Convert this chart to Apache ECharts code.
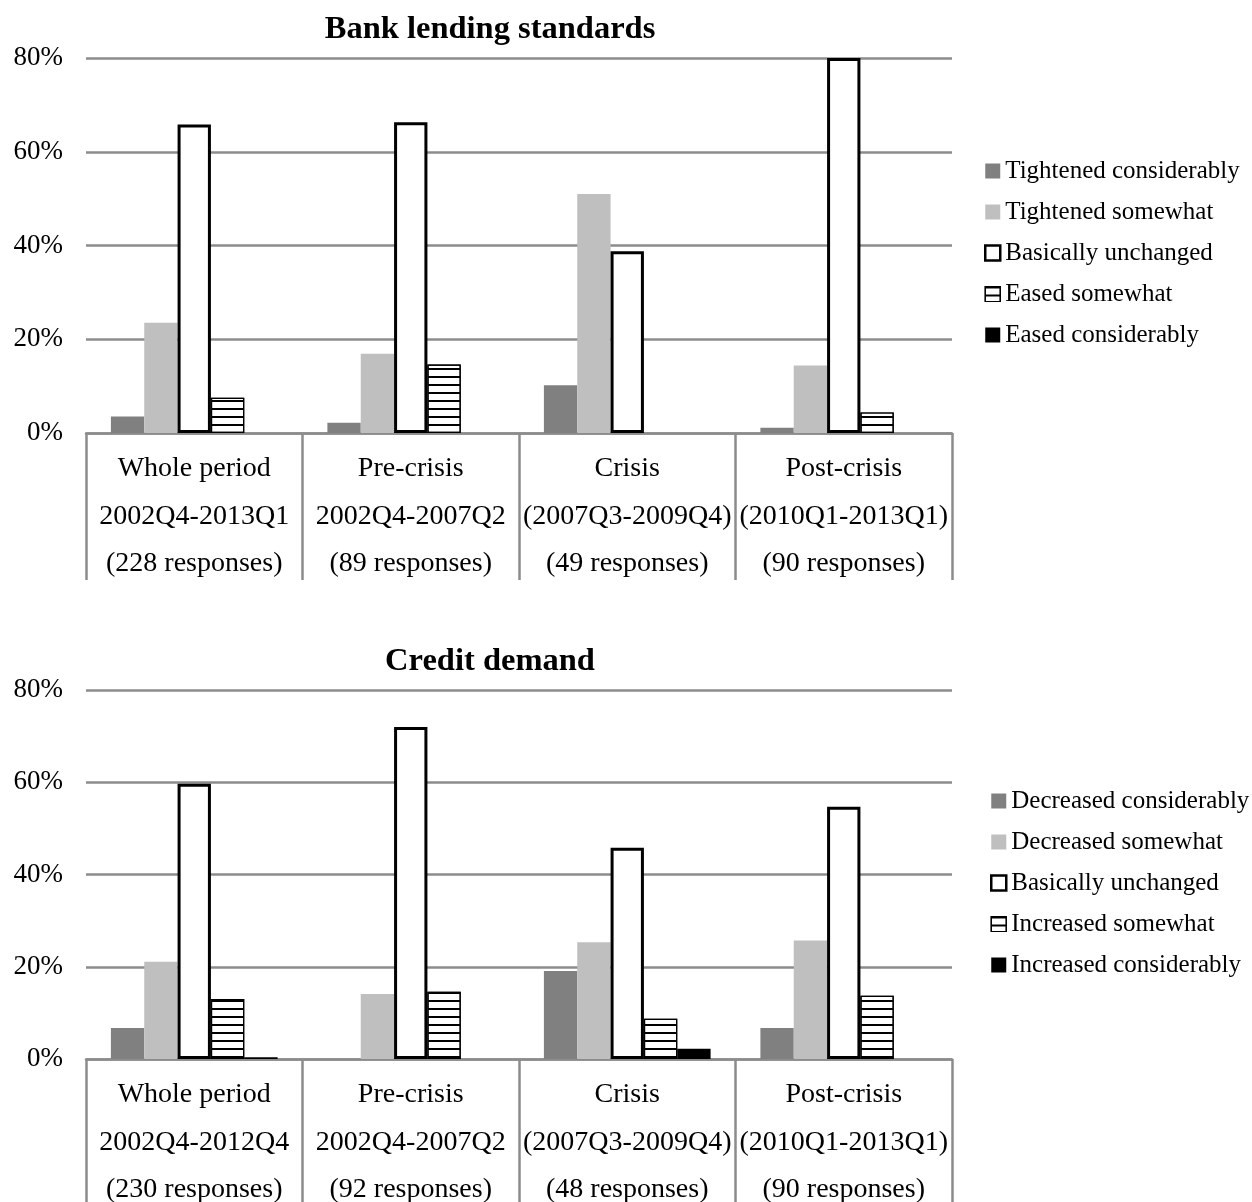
<!DOCTYPE html>
<html>
<head>
<meta charset="utf-8">
<title>Bank lending standards and credit demand</title>
<script src="https://cdn.jsdelivr.net/npm/echarts@6/dist/echarts.min.js"></script>
<style>
  html, body { margin: 0; padding: 0; background: #fff; }
  #chart { width: 1252px; height: 1202px; }
</style>
</head>
<body>
<div id="chart"></div>
<script>
// Period categories (three-line labels under each group of bars)
const lendingCategories = [
  'Whole period\n2002Q4-2013Q1\n(228 responses)',
  'Pre-crisis\n2002Q4-2007Q2\n(89 responses)',
  'Crisis\n(2007Q3-2009Q4)\n(49 responses)',
  'Post-crisis\n(2010Q1-2013Q1)\n(90 responses)'
];
const demandCategories = [
  'Whole period\n2002Q4-2012Q4\n(230 responses)',
  'Pre-crisis\n2002Q4-2007Q2\n(92 responses)',
  'Crisis\n(2007Q3-2009Q4)\n(48 responses)',
  'Post-crisis\n(2010Q1-2013Q1)\n(90 responses)'
];

// Value axis ticks (percent)
const percentTicks = [0, 20, 40, 60, 80];

// Bank lending standards: share of responses (%)
const lendingNames = ['Tightened considerably', 'Tightened somewhat', 'Basically unchanged', 'Eased somewhat', 'Eased considerably'];
const tightenedConsiderably = [3.5, 2.2, 10.2, 1.1];
const tightenedSomewhat     = [23.5, 16.9, 51.0, 14.4];
const lendingUnchanged      = [65.8, 66.3, 38.8, 80.0];
const easedSomewhat         = [7.5, 14.6, 0, 4.4];
const easedConsiderably     = [0, 0, 0, 0];

// Credit demand: share of responses (%)
const demandNames = ['Decreased considerably', 'Decreased somewhat', 'Basically unchanged', 'Increased somewhat', 'Increased considerably'];
const decreasedConsiderably = [6.7, 0, 19.1, 6.7];
const decreasedSomewhat     = [21.1, 14.1, 25.3, 25.7];
const demandUnchanged       = [59.7, 72.0, 45.8, 54.7];
const increasedSomewhat     = [13.0, 14.6, 8.7, 13.7];
const increasedConsiderably = [0.4, 0, 2.2, 0];

const FONT = 'Liberation Serif';
const GRID_GREY = '#8c8c8c';

// Five visual styles, shared by both panels
const styles = [
  { color: '#808080', borderWidth: 0 },
  { color: '#bfbfbf', borderWidth: 0 },
  { color: '#ffffff', borderColor: '#000', borderWidth: 3 },
  { color: '#ffffff', borderColor: '#000', borderWidth: 1.2,
    decal: { symbol: 'rect', symbolSize: 1, color: '#000',
             dashArrayX: [20, 0], dashArrayY: [1.2, 6], rotation: 0 } },
  { color: '#000000', borderWidth: 0 }
];

// Zero-valued bars draw nothing (no stray outline on the axis)
function barData(values) {
  return values.map(v => v === 0 ? { value: 0, itemStyle: { borderWidth: 0 } } : v);
}

function makeSeries(names, arrays, axisIndex) {
  return arrays.map((arr, i) => ({
    type: 'bar',
    name: names[i],
    xAxisIndex: axisIndex,
    yAxisIndex: axisIndex,
    data: barData(arr),
    barGap: '0%',
    barCategoryGap: '23%',
    itemStyle: styles[i],
    emphasis: { disabled: true },
    animation: false
  }));
}

function categoryAxis(cats, gridIndex) {
  return {
    type: 'category',
    gridIndex: gridIndex,
    data: cats,
    axisLine: { lineStyle: { color: GRID_GREY, width: 2.5 } },
    axisTick: { show: true, length: 147, lineStyle: { color: GRID_GREY, width: 2.5 } },
    axisLabel: {
      interval: 0, margin: 12, lineHeight: 47.5,
      fontFamily: FONT, fontSize: 28, color: '#000', align: 'center'
    }
  };
}

function valueAxis(gridIndex) {
  return {
    type: 'value',
    gridIndex: gridIndex,
    min: percentTicks[0],
    max: percentTicks[percentTicks.length - 1],
    interval: percentTicks[1] - percentTicks[0],
    axisLine: { show: false },
    axisTick: { show: false },
    splitLine: { lineStyle: { color: GRID_GREY, width: 2.5 } },
    axisLabel: {
      margin: 23, fontFamily: FONT, fontSize: 27, color: '#000',
      formatter: v => v + '%'
    }
  };
}

function legendData(names) {
  return names.map((n, i) => {
    if (i === 2) return { name: n, itemStyle: { borderWidth: 2.5 } };
    if (i === 3) return { name: n, itemStyle: { borderWidth: 1.2 } };
    return { name: n };
  });
}

const legendText = { fontFamily: FONT, fontSize: 25, color: '#000', lineHeight: 26 };

const chart = echarts.init(document.getElementById('chart'), null, { renderer: 'canvas' });
chart.setOption({
  backgroundColor: '#fff',
  animation: false,
  title: [
    { text: 'Bank lending standards', left: 485, top: 8, textAlign: 'center',
      textStyle: { fontFamily: FONT, fontSize: 32.5, fontWeight: 'bold', color: '#000' } },
    { text: 'Credit demand', left: 485, top: 640, textAlign: 'center',
      textStyle: { fontFamily: FONT, fontSize: 32.5, fontWeight: 'bold', color: '#000' } }
  ],
  grid: [
    { left: 86, top: 58, width: 866, height: 375, outerBoundsMode: 'none', containLabel: false },
    { left: 86, top: 690, width: 866, height: 369, outerBoundsMode: 'none', containLabel: false }
  ],
  legend: [
    { orient: 'vertical', left: 979, top: 153, itemWidth: 15, itemHeight: 15, itemGap: 15,
      icon: 'rect', selectedMode: false, textStyle: legendText, data: legendData(lendingNames) },
    { orient: 'vertical', left: 985, top: 783, itemWidth: 15, itemHeight: 15, itemGap: 15,
      icon: 'rect', selectedMode: false, textStyle: legendText, data: legendData(demandNames) }
  ],
  xAxis: [categoryAxis(lendingCategories, 0), categoryAxis(demandCategories, 1)],
  yAxis: [valueAxis(0), valueAxis(1)],
  series: [
    ...makeSeries(lendingNames,
      [tightenedConsiderably, tightenedSomewhat, lendingUnchanged, easedSomewhat, easedConsiderably], 0),
    ...makeSeries(demandNames,
      [decreasedConsiderably, decreasedSomewhat, demandUnchanged, increasedSomewhat, increasedConsiderably], 1)
  ]
});
</script>
</body>
</html>
